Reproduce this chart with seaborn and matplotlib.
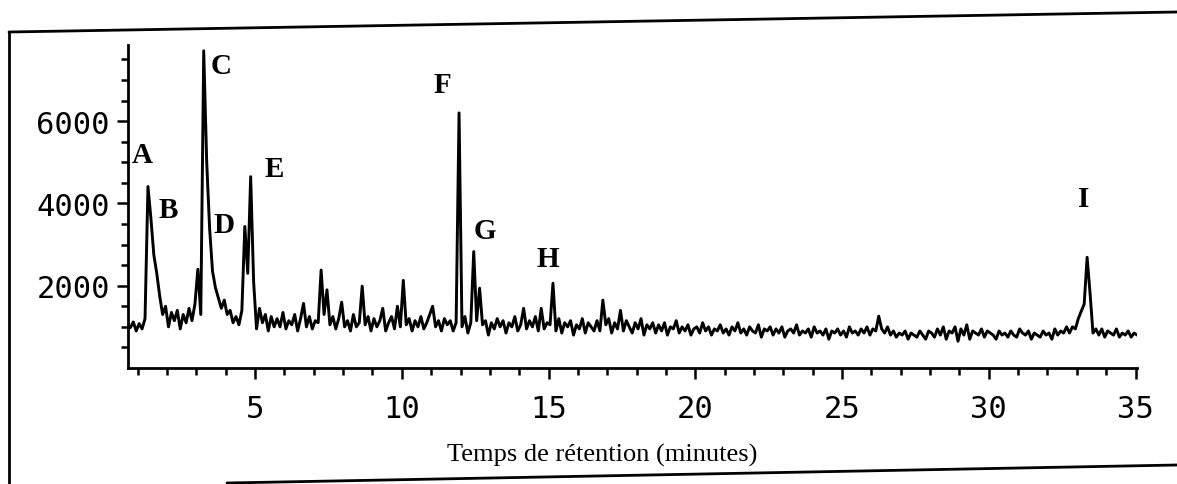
import numpy as np
import pandas as pd
import seaborn as sns
import matplotlib.pyplot as plt
from matplotlib.lines import Line2D
from matplotlib.ticker import FixedLocator

# Chromatogram trace, one reading every 0.1 min from 0.75 min
t_start = 0.75
t_step = 0.1
signal = [
    980, 1120, 900, 1080, 950, 1200, 4410, 3640, 2750, 2300,        # 0.75 - 1.65
    1750, 1300, 1500, 1000, 1350, 1150, 1400, 950, 1300, 1100,      # 1.75 - 2.65
    1450, 1150, 1550, 2400, 1300, 7710, 5040, 3400, 2350, 1950,     # 2.75 - 3.65
    1700, 1450, 1650, 1300, 1400, 1100, 1250, 1050, 1400, 3440,     # 3.75 - 4.65
    2300, 4650, 2100, 950, 1450, 1100, 1300, 900, 1250, 1000,       # 4.75 - 5.65
    1200, 1000, 1350, 950, 1150, 1050, 1300, 900, 1200, 1570,       # 5.75 - 6.65
    1000, 1250, 950, 1150, 1100, 2380, 1300, 1900, 1050, 1250,      # 6.75 - 7.65
    950, 1200, 1600, 1000, 1150, 900, 1300, 1000, 1100, 1990,       # 7.75 - 8.65
    1050, 1250, 900, 1200, 1000, 1150, 1450, 900, 1100, 1250,       # 8.75 - 9.65
    950, 1500, 1000, 2130, 1050, 1200, 900, 1150, 1000, 1250,       # 9.75 - 10.65
    950, 1100, 1300, 1500, 1000, 1150, 900, 1200, 1050, 1150,       # 10.75 - 11.65
    900, 1100, 6200, 1000, 1250, 850, 1100, 2830, 1150, 1940,       # 11.75 - 12.65
    1050, 1150, 800, 1100, 950, 1200, 1000, 1150, 850, 1100,        # 12.75 - 13.65
    1000, 1250, 900, 1050, 1450, 950, 1150, 1000, 1250, 900,        # 13.75 - 14.65
    1450, 950, 1100, 1050, 2060, 900, 1200, 850, 1100, 1000,        # 14.75 - 15.65
    1150, 800, 1050, 950, 1200, 850, 1100, 1000, 900, 1150,         # 15.75 - 16.65
    900, 1650, 1050, 1200, 850, 1100, 950, 1400, 900, 1150,         # 16.75 - 17.65
    1000, 850, 1100, 950, 1200, 800, 1050, 950, 1100, 850,          # 17.75 - 18.65
    1050, 900, 1100, 800, 1000, 950, 1150, 850, 1000, 900,          # 18.75 - 19.65
    1050, 800, 950, 1000, 850, 1100, 900, 1000, 800, 950,           # 19.75 - 20.65
    900, 1050, 850, 950, 800, 1000, 900, 1100, 850, 950,            # 20.75 - 21.65
    800, 1000, 900, 850, 1050, 750, 950, 900, 1000, 800,            # 21.75 - 22.65
    950, 850, 1000, 750, 900, 950, 850, 1050, 800, 900,             # 22.75 - 23.65
    850, 950, 750, 1000, 850, 900, 800, 950, 700, 900,              # 23.75 - 24.65
    850, 950, 800, 900, 750, 1000, 850, 900, 800, 950,              # 24.75 - 25.65
    850, 1000, 800, 950, 900, 1260, 950, 850, 1000, 800,            # 25.75 - 26.65
    900, 750, 850, 800, 900, 700, 850, 800, 750, 900,               # 26.75 - 27.65
    800, 700, 900, 850, 750, 950, 800, 1000, 700, 900,              # 27.75 - 28.65
    850, 1000, 650, 950, 800, 1050, 700, 900, 850, 800,             # 28.75 - 29.65
    950, 750, 900, 850, 800, 700, 900, 800, 850, 750,               # 29.75 - 30.65
    900, 800, 750, 950, 850, 800, 900, 700, 850, 800,               # 30.75 - 31.65
    750, 900, 800, 850, 700, 950, 800, 900, 850, 1000,              # 31.75 - 32.65
    850, 1000, 950, 1200, 1380, 1550, 2690, 1820, 850, 950,         # 32.75 - 33.65
    800, 950, 750, 900, 850, 800, 950, 750, 850, 800,               # 33.75 - 34.65
    900, 750, 850, 800,                                             # 34.75 - 35.05
]

peak_names = ["A", "B", "C", "D", "E", "F", "G", "H", "I"]
x_tick_values = [5, 10, 15, 20, 25, 30, 35]
x_tick_labels = ["5", "10", "15", "20", "25", "30", "35"]
y_tick_values = [2000, 4000, 6000]
y_tick_labels = ["2000", "4000", "6000"]
x_label = "Temps de rétention (minutes)"

df = pd.DataFrame({
    "time": t_start + t_step * np.arange(len(signal)),
    "signal": signal,
})

sns.set_theme(style="ticks")
plt.rcParams["font.family"] = ["DejaVu Sans Mono", "DejaVu Sans"]

W, H = 1177, 485
fig = plt.figure(figsize=(W / 100, H / 100), dpi=100)
fig.patch.set_facecolor("white")
ax = fig.add_axes([128 / W, 116 / H, (1137 - 128) / W, 323 / H])
ax.set_facecolor("white")

sns.lineplot(data=df, x="time", y="signal", ax=ax, color="black",
             linewidth=2.1, estimator=None, sort=False)

ax.set_xlim(0.67, 35.05)
ax.set_ylim(0, 7850)
ax.set_xlabel("")
ax.set_ylabel("")

ax.xaxis.set_major_locator(FixedLocator(x_tick_values))
ax.set_xticklabels(x_tick_labels)
ax.xaxis.set_minor_locator(FixedLocator([m for m in range(1, 36) if m % 5]))
ax.yaxis.set_major_locator(FixedLocator(y_tick_values))
ax.set_yticklabels(y_tick_labels)
ax.yaxis.set_minor_locator(FixedLocator([v for v in range(500, 8000, 500) if v % 2000]))

for side in ["top", "right"]:
    ax.spines[side].set_visible(False)
for side in ["left", "bottom"]:
    ax.spines[side].set_linewidth(2.0)
    ax.spines[side].set_color("black")

ax.tick_params(which="major", direction="out", length=8, width=1.8, labelsize=22,
               colors="black")
ax.tick_params(which="minor", direction="out", length=5, width=1.8, colors="black")
ax.tick_params(axis="x", which="major", pad=11)
ax.tick_params(axis="y", which="major", pad=5)

# peak letters
label_pos = [(1.15, 5200), (2.03, 3860), (3.84, 7360), (3.94, 3480), (5.65, 4840),
             (11.38, 6900), (12.84, 3330), (14.99, 2670), (33.23, 4130)]
for name, (lx, ly) in zip(peak_names, label_pos):
    ax.text(lx, ly, name, ha="center", va="center", fontsize=21, fontweight="bold",
            family=["Liberation Serif", "DejaVu Serif"], color="black")

fig.text(602 / W, 1 - 455 / H, x_label, ha="center", va="center", fontsize=19,
         family=["Liberation Serif", "DejaVu Serif"], color="black")

# frame of the scanned figure
frame = [((9, 33), (1177, 13)), ((9, 33), (9, 485)), ((227, 484), (1177, 466))]
for (x0, y0), (x1, y1) in frame:
    fig.add_artist(Line2D([x0 / W, x1 / W], [1 - y0 / H, 1 - y1 / H],
                          transform=fig.transFigure, color="black", linewidth=2.0))

fig.savefig("out.png", dpi=100, facecolor="white")
